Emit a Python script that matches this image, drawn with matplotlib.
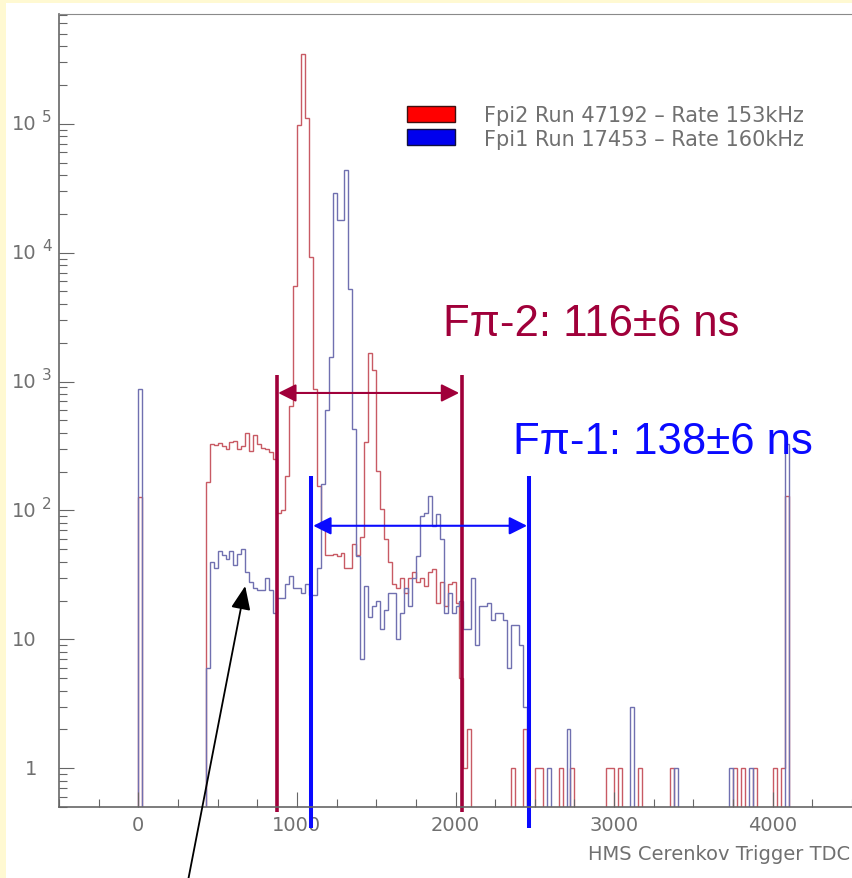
import matplotlib
matplotlib.use("Agg")
import matplotlib.pyplot as plt
import numpy as np
from matplotlib.patches import Patch, Rectangle
from matplotlib.ticker import MultipleLocator, LogLocator, NullFormatter

# HMS Cerenkov trigger TDC spectra, 25-channel bins starting at TDC 0
TDC_BIN = 25

# Fpi2 (run 47192): contiguous block of bins starting at TDC 425
fpi2_block_start = 425
fpi2_block = [
    166, 330, 320, 335, 315, 300, 340, 345, 300, 315,
    400, 290, 385, 330, 305, 300, 285, 250, 95, 100,
    185, 640, 5500, 97000, 350000, 110000, 9300, 875, 155, 72,
    45, 45, 46, 44, 47, 36, 36, 55, 45, 62,
    340, 1650, 1230, 203, 102, 60, 40, 27, 25, 30,
    23, 30, 33, 28, 30, 26, 33, 35, 19, 28,
    18, 27, 28, 19, 5, 1, 2,
]
# isolated Fpi2 bins (TDC left edge, counts)
fpi2_single_tdc = [0, 2350, 2425, 2500, 2525, 2650, 2725, 2950, 2975, 3025,
                   3150, 3350, 3750, 3800, 3875, 4000, 4050, 4075]
fpi2_single_cnt = [127, 1, 2, 1, 1, 1, 1, 1, 1, 1,
                   1, 1, 1, 1, 1, 1, 1, 130]

# Fpi1 (run 17453)
fpi1_block_start = 425
fpi1_block = [
    6, 40, 36, 48, 45, 42, 48, 38, 46, 50,
    33, 28, 25, 24, 24, 30, 24, 16, 21, 21,
    27, 31, 25, 25, 23, 27, 22, 22, 36, 160,
    600, 1550, 29000, 18000, 18000, 44000, 5250, 430, 44, 7,
    26, 15, 18, 20, 12, 17, 23, 23, 10, 16,
    25, 18, 30, 44, 90, 95, 130, 76, 94, 60,
    16, 23, 16, 18, 20, 12, 12, 30, 9, 18,
    18, 19, 14, 16, 16, 14, 6, 13, 13, 9,
    3,
]
fpi1_single_tdc = [0, 2575, 2700, 3100, 3375, 3725, 3850, 4075]
fpi1_single_cnt = [875, 1, 2, 3, 1, 1, 1, 330]

labels = ["Fpi2 Run 47192 \u2013 Rate 153kHz", "Fpi1 Run 17453 \u2013 Rate 160kHz"]

# coincidence window markers (TDC channel, counts level)
fpi2_window = (874, 2040)
fpi2_window_top = 1120
fpi2_arrow = (882, 2023, 815)
fpi2_text = ("F\u03c0-2: 116\u00b16 ns", 1922, 2800)
fpi1_window = (1087, 2464)
fpi1_window_top = 185
fpi1_arrow = (1103, 2451, 76)
fpi1_text = ("F\u03c0-1: 138\u00b16 ns", 2363, 340)

N_BINS = 165


def fill(block_start, block, single_tdc, single_cnt):
    counts = np.zeros(N_BINS)
    i0 = block_start // TDC_BIN
    counts[i0:i0 + len(block)] = block
    for t, c in zip(single_tdc, single_cnt):
        counts[t // TDC_BIN] = c
    return counts


edges = np.arange(N_BINS + 1) * TDC_BIN
fpi2 = fill(fpi2_block_start, fpi2_block, fpi2_single_tdc, fpi2_single_cnt)
fpi1 = fill(fpi1_block_start, fpi1_block, fpi1_single_tdc, fpi1_single_cnt)

W, H = 852, 879
fig = plt.figure(figsize=(W / 100, H / 100), dpi=100, facecolor="#fff9d2")
fig.patches.append(Rectangle((6 / W, 0), 1, 1 - 4 / H, transform=fig.transFigure,
                             facecolor="white", edgecolor="none", zorder=-10))
ax = fig.add_axes([59 / W, 71 / H, (W - 59) / W, 793 / H])

floor = 0.1
ax.stairs(np.where(fpi2 > 0, fpi2, floor), edges, baseline=floor,
          color="#c85a64", lw=1.0)
ax.stairs(np.where(fpi1 > 0, fpi1, floor), edges, baseline=floor,
          color="#7070b0", lw=1.0)

ax.set_yscale("log")
ax.set_xlim(-500, 4500)
ax.set_ylim(0.5, 7.1e5)

grey = "#666666"
for s in ("left", "bottom"):
    ax.spines[s].set_color(grey)
    ax.spines[s].set_linewidth(1.2)
ax.spines["top"].set_color("#8a8a8a")
ax.spines["right"].set_visible(False)

ax.xaxis.set_major_locator(MultipleLocator(1000))
ax.xaxis.set_minor_locator(MultipleLocator(250))
ax.yaxis.set_major_locator(LogLocator(base=10, numticks=10))
ax.yaxis.set_minor_locator(LogLocator(base=10, subs=np.arange(2, 10), numticks=20))
ax.yaxis.set_minor_formatter(NullFormatter())
ax.tick_params(which="both", direction="in", color=grey, width=0.8)
ax.tick_params(which="major", length=11)
ax.tick_params(which="minor", length=5.5)
ax.tick_params(axis="y", labelleft=False)
ax.tick_params(axis="x", labelsize=14, labelcolor="#707070", pad=6)

# ROOT-style decade labels
ytrans = ax.get_yaxis_transform()
for k in range(6):
    v = 10 ** k
    base = str(v) if k < 2 else "10"
    ax.annotate(base, xy=(0, v), xycoords=ytrans, xytext=(-22, 0),
                textcoords="offset pixels", ha="right", va="center",
                fontsize=14, color="#707070")
    if k >= 2:
        ax.annotate(str(k), xy=(0, v), xycoords=ytrans, xytext=(-17, 7),
                    textcoords="offset pixels", ha="left", va="center",
                    fontsize=11, color="#707070")

fig.text(850 / W, 1 - 855 / H, "HMS Cerenkov Trigger TDC", ha="right",
         va="center", fontsize=14, color="#707070")

handles = [Patch(facecolor="#ff0000", edgecolor="#401010", lw=1),
           Patch(facecolor="#0000ee", edgecolor="#101040", lw=1)]
fig.legend(handles, labels, loc="upper left", bbox_to_anchor=(407 / W, 1 - 106 / H),
           frameon=False, fontsize=15, borderpad=0, borderaxespad=0,
           handlelength=2.3, handleheight=0.82, handletextpad=1.4,
           labelspacing=0.17, labelcolor="#707070")

maroon = "#a0003a"
blue = "#0a0aff"
arial = ["Liberation Sans", "DejaVu Sans"]

for x in fpi2_window:
    ax.plot([x, x], [0.46, fpi2_window_top], color=maroon, lw=2.6,
            clip_on=False, solid_capstyle="butt")
ax.annotate("", xy=(fpi2_arrow[1], fpi2_arrow[2]), xytext=(fpi2_arrow[0], fpi2_arrow[2]),
            arrowprops=dict(arrowstyle="<|-|>", color=maroon, lw=1.5,
                            mutation_scale=27, shrinkA=0, shrinkB=0))
ax.text(fpi2_text[1], fpi2_text[2], fpi2_text[0], color=maroon, fontsize=31.5,
        family=arial, ha="left", va="center")

for x in fpi1_window:
    ax.plot([x, x], [0.342, fpi1_window_top], color=blue, lw=2.9,
            clip_on=False, solid_capstyle="butt")
ax.annotate("", xy=(fpi1_arrow[1], fpi1_arrow[2]), xytext=(fpi1_arrow[0], fpi1_arrow[2]),
            arrowprops=dict(arrowstyle="<|-|>", color=blue, lw=1.5,
                            mutation_scale=27, shrinkA=0, shrinkB=0))
ax.text(fpi1_text[1], fpi1_text[2], fpi1_text[0], color=blue, fontsize=31.5,
        family=arial, ha="left", va="center")

# pointer to the Fpi1 accidental plateau
ax.annotate("", xy=(674, 25.9), xytext=(315, 0.137),
            arrowprops=dict(arrowstyle="-|>,head_length=0.6,head_width=0.25",
                            color="black", lw=1.3, mutation_scale=24,
                            shrinkA=0, shrinkB=0), annotation_clip=False)

fig.savefig("out.png", dpi=100)
